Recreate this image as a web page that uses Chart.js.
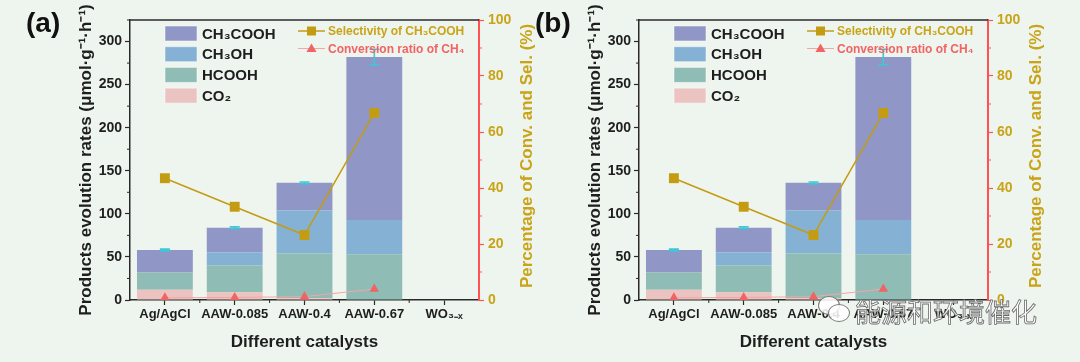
<!DOCTYPE html>
<html>
<head>
<meta charset="utf-8">
<script src="https://cdn.jsdelivr.net/npm/chart.js@4/dist/chart.umd.min.js"></script>
<style>
  html, body { margin: 0; padding: 0; background: #eef4ee; }
  body { width: 1080px; height: 362px; position: relative; overflow: hidden; }
  .panel { position: absolute; top: 0; width: 560px; height: 362px; }
  #wrapA { left: 0; }
  #wrapB { left: 509px; }
  .wm { position: absolute; left: 855px; top: 292px; font: 26px "Noto Sans CJK SC", sans-serif;
        color: rgba(255,255,255,0.85); -webkit-text-stroke: 0.8px #6a6a6a; }
  .wx { position: absolute; border: 1.5px solid #7a7a7a; border-radius: 50%; background: rgba(255,255,255,0.85); }
</style>
</head>
<body>
<div class="panel" id="wrapA"><canvas id="chartA" width="560" height="362"></canvas></div>
<div class="panel" id="wrapB"><canvas id="chartB" width="560" height="362"></canvas></div>
<div class="wx" style="left:818px;top:296px;width:20px;height:17px;"></div>
<div class="wx" style="left:828px;top:304px;width:20px;height:16px;"></div>
<div class="wm">能源和环境催化</div>
<script>
// categories and values
const catalysts = ['Ag/AgCl', 'AAW-0.085', 'AAW-0.4', 'AAW-0.67', 'WO₃₋ₓ'];
const co2 = [12, 9, 2, 0, 0];
const hcooh = [20, 31, 52, 53, 0];
const ch3oh = [0, 15, 50, 40, 0];
const ch3cooh = [26, 29, 32, 189, 0];
const totalErr = [1, 1, 1, 9, 0];
const selectivity = [43.5, 33.3, 23.2, 66.8, null];
const conversion = [0.8, 0.9, 1.2, 3.9, null];

const FONT = 'Liberation Sans, Arial, sans-serif';
const GOLD = '#c49c12';
const GOLD_TEXT = '#c9a418';
const RED = '#ff5252';
const DARK = '#2a2a2a';

// minor ticks, frame top line, error bars, right title, custom legends, panel letter
const decorPlugin = {
    id: 'decor',
    afterDatasetsDraw(chart) {
        const ctx = chart.ctx;
        const x = chart.scales.x, y = chart.scales.y;
        ctx.save();
        ctx.strokeStyle = '#3cc8d8';
        ctx.lineWidth = 1.6;
        for (let i = 0; i < catalysts.length; i++) {
            if (!totalErr[i]) continue;
            const tot = co2[i] + hcooh[i] + ch3oh[i] + ch3cooh[i];
            const px = x.getPixelForValue(i);
            const y1 = y.getPixelForValue(tot - totalErr[i]);
            const y2 = y.getPixelForValue(tot + totalErr[i]);
            ctx.beginPath();
            ctx.moveTo(px, y1); ctx.lineTo(px, y2);
            ctx.moveTo(px - 5, y1); ctx.lineTo(px + 5, y1);
            ctx.moveTo(px - 5, y2); ctx.lineTo(px + 5, y2);
            ctx.stroke();
        }
        ctx.restore();
    },
    afterDraw(chart, args, opts) {
        const ctx = chart.ctx;
        const area = chart.chartArea;
        const x = chart.scales.x, y = chart.scales.y, y2 = chart.scales.y2;
        ctx.save();
        // top frame
        ctx.strokeStyle = DARK;
        ctx.lineWidth = 1.5;
        ctx.beginPath();
        ctx.moveTo(area.left, area.top);
        ctx.lineTo(area.right, area.top);
        ctx.stroke();
        // minor ticks
        ctx.lineWidth = 1;
        ctx.beginPath();
        for (let v = 25; v <= 325; v += 50) {
            const py = y.getPixelForValue(v);
            ctx.moveTo(area.left, py); ctx.lineTo(area.left - 3, py);
        }
        for (let i = 0; i < catalysts.length - 1; i++) {
            const px = x.getPixelForValue(i + 0.5);
            ctx.moveTo(px, area.bottom); ctx.lineTo(px, area.bottom + 3);
        }
        ctx.stroke();
        ctx.strokeStyle = RED;
        ctx.beginPath();
        for (let v = 10; v < 100; v += 20) {
            const py = y2.getPixelForValue(v);
            ctx.moveTo(area.right, py); ctx.lineTo(area.right + 3, py);
        }
        ctx.stroke();

        // right axis title, reading bottom to top
        ctx.save();
        ctx.translate(527, (area.top + area.bottom) / 2 - 4);
        ctx.rotate(-Math.PI / 2);
        ctx.textAlign = 'center';
        ctx.textBaseline = 'middle';
        ctx.fillStyle = GOLD_TEXT;
        ctx.font = 'bold 17px ' + FONT;
        ctx.fillText('Percentage of Conv. and Sel. (%)', 0, 0);
        ctx.restore();

        // bar legend
        const bars = chart.data.datasets.filter(d => d.type === 'bar').slice().reverse();
        ctx.textBaseline = 'middle';
        ctx.font = 'bold 15px ' + FONT;
        bars.forEach((d, k) => {
            const cy = 33.5 + k * 20.7;
            const bx = area.left + 35;
            ctx.fillStyle = d.backgroundColor;
            ctx.fillRect(bx, cy - 7.5, 32, 15);
            ctx.strokeStyle = 'rgba(255,255,255,0.5)';
            ctx.strokeRect(bx, cy - 7.5, 32, 15);
            ctx.fillStyle = '#1e1e1e';
            ctx.fillText(d.label, bx + 37, cy + 1);
        });
        // line legend
        const lines = chart.data.datasets.filter(d => d.type === 'line');
        ctx.font = 'bold 12px ' + FONT;
        lines.forEach((d, k) => {
            const cy = 31 + k * 17.5;
            const lx = area.left + 168;
            ctx.strokeStyle = d.borderColor;
            ctx.lineWidth = d.borderWidth;
            ctx.beginPath();
            ctx.moveTo(lx, cy); ctx.lineTo(lx + 27, cy);
            ctx.stroke();
            ctx.fillStyle = d.pointBackgroundColor;
            if (d.pointStyle === 'rect') {
                ctx.fillRect(lx + 9, cy - 4.5, 9, 9);
            } else {
                ctx.beginPath();
                ctx.moveTo(lx + 13.5, cy - 5);
                ctx.lineTo(lx + 18.5, cy + 3.5);
                ctx.lineTo(lx + 8.5, cy + 3.5);
                ctx.closePath();
                ctx.fill();
            }
            ctx.fillStyle = d.legendColor;
            ctx.fillText(d.label, lx + 30, cy + 1);
        });
        // panel letter
        ctx.fillStyle = '#111';
        ctx.font = 'bold 28px ' + FONT;
        ctx.fillText(opts.letter, 26, 24);
        ctx.restore();
    }
};

function buildChart(id, letter) {
    return new Chart(document.getElementById(id), {
        data: {
            labels: catalysts,
            datasets: [
                { type: 'bar', label: 'CO₂', data: co2, backgroundColor: '#ebc4c1', order: 2 },
                { type: 'bar', label: 'HCOOH', data: hcooh, backgroundColor: '#8fbcb4', order: 2 },
                { type: 'bar', label: 'CH₃OH', data: ch3oh, backgroundColor: '#85b1d4', order: 2 },
                { type: 'bar', label: 'CH₃COOH', data: ch3cooh, backgroundColor: '#9096c5', order: 2 },
                {
                    type: 'line', label: 'Selectivity of CH₃COOH', data: selectivity, yAxisID: 'y2',
                    borderColor: GOLD, borderWidth: 1.5, pointStyle: 'rect', pointRadius: 7,
                    pointBackgroundColor: GOLD, pointBorderColor: GOLD, pointBorderWidth: 0,
                    legendColor: GOLD_TEXT, order: 1
                },
                {
                    type: 'line', label: 'Conversion ratio of CH₄', data: conversion, yAxisID: 'y2',
                    borderColor: '#f4a6a6', borderWidth: 1, pointStyle: 'triangle', pointRadius: 5.5,
                    pointBackgroundColor: '#f06464', pointBorderColor: '#f06464', pointBorderWidth: 0,
                    legendColor: '#f06464', order: 1
                }
            ]
        },
        options: {
            responsive: false,
            animation: false,
            layout: { padding: { top: 20, left: 0, right: 0, bottom: 0 } },
            datasets: { bar: { barPercentage: 0.8, categoryPercentage: 1, stack: 'p' } },
            plugins: {
                legend: { display: false },
                tooltip: { enabled: false },
                decor: { letter: letter }
            },
            scales: {
                x: {
                    stacked: true,
                    offset: true,
                    grid: { drawOnChartArea: false, offset: false, tickLength: 5, color: DARK, tickWidth: 1.2 },
                    border: { color: DARK, width: 1.5 },
                    ticks: { color: '#1e1e1e', padding: 2, maxRotation: 0, minRotation: 0, autoSkip: false,
                             font: { family: FONT, size: 13, weight: 'bold' } },
                    title: {
                        display: true, text: 'Different catalysts', color: '#1e1e1e',
                        font: { family: FONT, size: 17, weight: 'bold', lineHeight: 1.2 },
                        padding: { top: 0, bottom: 9 }
                    },
                    afterFit: (s) => { s.height = 62; }
                },
                y: {
                    stacked: true,
                    min: 0, max: 325,
                    grid: { drawOnChartArea: false, tickLength: 5, color: DARK, tickWidth: 1.2 },
                    border: { color: DARK, width: 1.5 },
                    ticks: { stepSize: 50, includeBounds: false, color: '#1e1e1e', padding: 3,
                             font: { family: FONT, size: 14, weight: 'bold' } },
                    title: {
                        display: true, text: 'Products evolution rates (μmol·g⁻¹·h⁻¹)', color: '#1e1e1e',
                        font: { family: FONT, size: 17, weight: 'bold', lineHeight: 1.2 },
                        padding: { top: 76, bottom: 0 }
                    },
                    afterFit: (s) => { s.width = 130; }
                },
                y2: {
                    position: 'right',
                    min: 0, max: 100,
                    grid: { drawOnChartArea: false, tickLength: 5, color: RED, tickWidth: 1.2 },
                    border: { color: RED, width: 2 },
                    ticks: { stepSize: 20, color: GOLD_TEXT, padding: 4,
                             font: { family: FONT, size: 14, weight: 'bold' } },
                    afterFit: (s) => { s.width = 81; }
                }
            }
        },
        plugins: [decorPlugin]
    });
}

buildChart('chartA', '(a)');
buildChart('chartB', '(b)');
</script>
</body>
</html>
